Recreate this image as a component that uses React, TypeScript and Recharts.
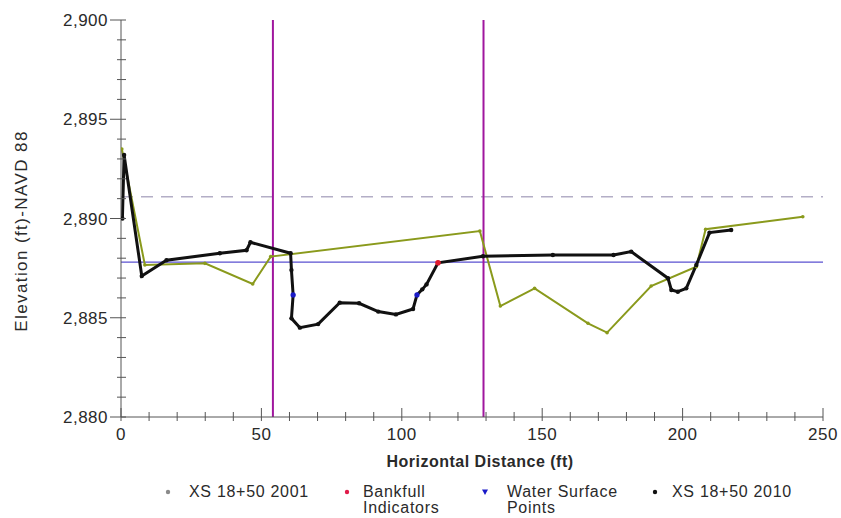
import {
  ComposedChart,
  Line,
  Scatter,
  XAxis,
  YAxis,
  ReferenceLine,
} from "recharts";

// cross-section survey, station 18+50
const dist2001 = [0.3, 8.5, 29.9, 46.9, 53.3, 127.8, 135.1, 147.3, 166.3, 173.1, 188.8, 204.9, 208.2, 242.8];
const elev2001 = [2893.5, 2887.66, 2887.74, 2886.7, 2888.08, 2889.37, 2885.59, 2886.48, 2884.72, 2884.25, 2886.6, 2887.57, 2889.46, 2890.09];

const dist2010 = [
  0.5, 1.1, 7.4, 16.2, 35.2, 44.7, 46.1, 60.4, 60.7, 61.3, 60.7, 63.7, 70.2, 77.9, 84.8, 91.6, 97.9,
  104.0, 105.4, 107.3, 108.8, 112.9, 128.9, 153.8, 175.4, 181.7, 194.8, 196.0, 198.3, 201.3, 204.9, 209.6, 217.3,
];
const elev2010 = [
  2890.0, 2893.2, 2887.1, 2887.9, 2888.25, 2888.4, 2888.8, 2888.25, 2887.4, 2886.15, 2884.97, 2884.5, 2884.68,
  2885.76, 2885.73, 2885.31, 2885.17, 2885.44, 2886.15, 2886.43, 2886.68, 2887.77, 2888.1, 2888.16, 2888.16,
  2888.33, 2886.99, 2886.4, 2886.31, 2886.48, 2887.66, 2889.29, 2889.42,
];

const bankfullDist = [112.9];
const bankfullElev = [2887.77];
const waterDist = [61.3, 105.4];
const waterElev = [2886.15, 2886.15];

const verticalMarks = [54.1, 129.1];
const dashedElev = 2891.1;
const waterLineElev = 2887.8;

const xTicks = [0, 10, 20, 30, 40, 50, 60, 70, 80, 90, 100, 110, 120, 130, 140, 150, 160, 170, 180, 190, 200, 210, 220, 230, 240, 250];
const yTicks = [2880, 2881, 2882, 2883, 2884, 2885, 2886, 2887, 2888, 2889, 2890, 2891, 2892, 2893, 2894, 2895, 2896, 2897, 2898, 2899, 2900];

const legendItems = [
  { label: ["XS 18+50 2001"], color: "#8a8a8a", shape: "dot", left: 164, textLeft: 189 },
  { label: ["Bankfull", "Indicators"], color: "#e01b4a", shape: "dot", left: 343, textLeft: 363 },
  { label: ["Water Surface", "Points"], color: "#1a1ac8", shape: "tri", left: 481, textLeft: 507 },
  { label: ["XS 18+50 2010"], color: "#111111", shape: "dot", left: 651, textLeft: 672 },
];

const data2001 = dist2001.map((x, i) => ({ x, y: elev2001[i] }));
const data2010 = dist2010.map((x, i) => ({ x, y: elev2010[i] }));
const bankfullData = bankfullDist.map((x, i) => ({ x, y: bankfullElev[i] }));
const waterData = waterDist.map((x, i) => ({ x, y: waterElev[i] }));

const FONT = "'Liberation Sans', Arial, sans-serif";
const AXIS = "#555";
const TEXT = "#2a2a2a";

function YTick(props: any) {
  const { x, y, payload } = props;
  const major = payload.value % 5 === 0;
  return (
    <g>
      <line x1={x - (major ? 11 : 4)} x2={x + 5} y1={y} y2={y} stroke={AXIS} />
      {major && (
        <text x={x - 13} y={y} dy={6} textAnchor="end" fontSize={17} fill={TEXT} fontFamily={FONT} letterSpacing={0.5}>
          {payload.value.toLocaleString("en-US")}
        </text>
      )}
    </g>
  );
}

function XTick(props: any) {
  const { x, y, payload } = props;
  const major = payload.value % 50 === 0;
  return (
    <g>
      <line x1={x} x2={x} y1={y - (major ? 9 : 5)} y2={y + 4} stroke={AXIS} />
      {major && (
        <text x={x} y={y + 23} textAnchor="middle" fontSize={17} fill={TEXT} fontFamily={FONT} letterSpacing={0.5}>
          {payload.value}
        </text>
      )}
    </g>
  );
}

const renderYLabel = () => {
  const cy = 231;
  return (
    <text x={27} y={cy} transform={`rotate(-90, 27, ${cy})`} textAnchor="middle" fontSize={17} fill={TEXT} fontFamily={FONT} letterSpacing={1.4}>
      Elevation (ft)-NAVD 88
    </text>
  );
};

const renderXLabel = (props: any) => {
  const { viewBox } = props;
  const cx = viewBox.x + viewBox.width / 2;
  return (
    <text x={cx + 8} y={467} textAnchor="middle" fontSize={16} fontWeight="bold" fill={TEXT} fontFamily={FONT} letterSpacing={0.5}>
      Horizontal Distance (ft)
    </text>
  );
};

export default function App() {
  return (
    <div style={{ position: "relative", width: 841, height: 518, background: "#fff", fontFamily: FONT, overflow: "hidden" }}>
      <style>{"body{margin:0}"}</style>
      <ComposedChart width={841} height={518} margin={{ top: 20, right: 18, bottom: 0, left: 0 }}>
        <XAxis
          type="number"
          dataKey="x"
          domain={[0, 250]}
          ticks={xTicks}
          interval={0}
          height={101}
          tickSize={0}
          tickMargin={0}
          tickLine={false}
          tick={<XTick />}
          axisLine={{ stroke: AXIS }}
          label={{ content: renderXLabel }}
          allowDataOverflow
        />
        <YAxis
          type="number"
          dataKey="y"
          domain={[2880, 2900]}
          ticks={yTicks}
          interval={0}
          width={121}
          tickSize={0}
          tickMargin={0}
          tickLine={false}
          tick={<YTick />}
          axisLine={{ stroke: AXIS }}
          label={{ content: renderYLabel }}
          allowDataOverflow
        />
        <ReferenceLine y={dashedElev} stroke="#b3aec6" strokeWidth={1.5} strokeDasharray="12 8" />
        <ReferenceLine y={waterLineElev} stroke="#5a50d0" strokeWidth={1.3} />
        {verticalMarks.map((v) => (
          <ReferenceLine key={v} x={v} stroke="#a0169e" strokeWidth={2} />
        ))}
        <Line
          data={data2001}
          dataKey="y"
          type="linear"
          stroke="#8a9a1c"
          strokeWidth={2}
          dot={{ r: 1.8, fill: "#8a9a1c", strokeWidth: 0 }}
          isAnimationActive={false}
        />
        <Line
          data={data2010}
          dataKey="y"
          type="linear"
          stroke="#111"
          strokeWidth={3}
          dot={{ r: 2.2, fill: "#111", strokeWidth: 0 }}
          isAnimationActive={false}
        />
        <Scatter data={waterData} dataKey="y" fill="#1a1ac8" shape={(p: any) => <circle cx={p.cx} cy={p.cy} r={2.6} fill="#1a1ac8" />} isAnimationActive={false} />
        <Scatter data={bankfullData} dataKey="y" fill="#e01b2f" shape={(p: any) => <circle cx={p.cx} cy={p.cy} r={2.8} fill="#e01b2f" />} isAnimationActive={false} />
      </ComposedChart>
      {legendItems.map((it) => (
        <div key={it.label[0]} style={{ position: "absolute", top: 484, left: 0 }}>
          <svg style={{ position: "absolute", left: it.left, top: 4 }} width={8} height={8}>
            {it.shape === "dot" ? (
              <circle cx={4} cy={4} r={2.2} fill={it.color} />
            ) : (
              <polygon points="1,1.5 7,1.5 4,7" fill={it.color} />
            )}
          </svg>
          <div style={{ position: "absolute", left: it.textLeft, top: 0, fontSize: 16, lineHeight: "16px", color: TEXT, whiteSpace: "nowrap", letterSpacing: 0.7 }}>
            {it.label.map((l) => (
              <div key={l}>{l}</div>
            ))}
          </div>
        </div>
      ))}
    </div>
  );
}
